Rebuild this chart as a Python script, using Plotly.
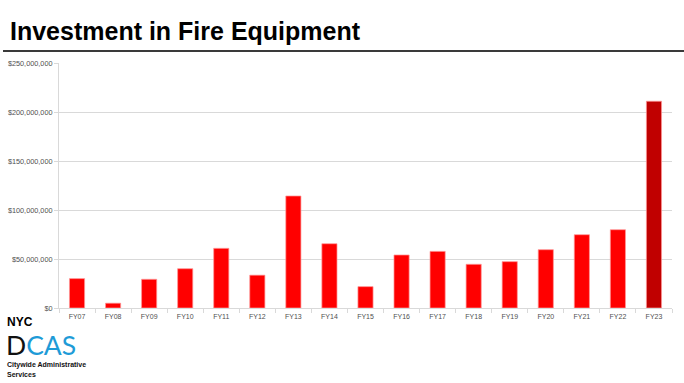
import plotly.graph_objects as go

categories = ["FY07", "FY08", "FY09", "FY10", "FY11", "FY12", "FY13", "FY14", "FY15",
              "FY16", "FY17", "FY18", "FY19", "FY20", "FY21", "FY22", "FY23"]
investment = [30.0e6, 4.9e6, 29.3e6, 40.1e6, 60.9e6, 33.5e6, 114.3e6, 65.6e6, 21.8e6,
              54.1e6, 57.8e6, 44.6e6, 47.3e6, 59.5e6, 74.8e6, 79.9e6, 211.0e6]
bar_colors = ["#FF0000"] * 16 + ["#C00000"]
y_tickvals = [0, 50e6, 100e6, 150e6, 200e6, 250e6]
y_ticktext = ["$0", "$50,000,000", "$100,000,000", "$150,000,000", "$200,000,000", "$250,000,000"]

W, H = 684, 383
L, R, T, B = 59, 12, 63, 75
PW, PH = W - L - R, H - T - B

def px(x):
    return (x - L) / PW

def py(y):
    return (H - B - y) / PH

fig = go.Figure(go.Bar(
    x=categories, y=investment,
    marker=dict(color=bar_colors, line=dict(color="rgba(255,150,150,0.9)", width=0.8)),
))

fig.update_layout(
    width=W, height=H,
    margin=dict(l=L, r=R, t=T, b=B, autoexpand=False),
    paper_bgcolor="white", plot_bgcolor="white",
    bargap=0.58,
    showlegend=False,
    font=dict(family="Liberation Sans, Arial, sans-serif", color="#595959"),
)
fig.update_yaxes(
    automargin=False,
    range=[0, 250e6], tickvals=y_tickvals, ticktext=y_ticktext,
    tickfont=dict(size=7.3, color="#505050"),
    showgrid=True, gridcolor="#d9d9d9", gridwidth=1,
    showline=True, linecolor="#d9d9d9", linewidth=1,
    ticks="outside", ticklen=4, tickcolor="#d9d9d9",
    zeroline=False,
)
fig.update_xaxes(
    automargin=False,
    tickfont=dict(size=7, color="#505050"),
    showline=True, linecolor="#d9d9d9", linewidth=1,
    ticks="outside", tickson="boundaries", ticklen=4, tickcolor="#d9d9d9",
    ticklabelstandoff=2,
    showgrid=False,
)

annotations = [
    dict(text="<b>Investment in Fire Equipment</b>", x=px(8), y=py(31),
         xanchor="left", yanchor="middle",
         font=dict(size=25, color="#000000", family="Liberation Sans, Arial, sans-serif")),
    dict(text="<b>NYC</b>", x=px(5), y=py(322), xanchor="left", yanchor="middle",
         font=dict(size=12, color="#000000", family="Liberation Sans, Arial, sans-serif")),
    dict(text="<span style='color:#111111'>D</span><span style='color:#1E9BD7'>CAS</span>",
         x=px(4), y=py(345), xanchor="left", yanchor="middle",
         font=dict(size=26.5, family="Lato, Roboto, sans-serif", weight=400)),
    dict(text="<b>Citywide Administrative</b>", x=px(5), y=py(365), xanchor="left", yanchor="middle",
         font=dict(size=7, color="#111111", family="Liberation Sans, Arial, sans-serif")),
    dict(text="<b>Services</b>", x=px(5), y=py(374), xanchor="left", yanchor="middle",
         font=dict(size=7, color="#111111", family="Liberation Sans, Arial, sans-serif")),
]
for a in annotations:
    a.update(xref="paper", yref="paper", showarrow=False)
fig.update_layout(annotations=annotations)

fig.add_shape(type="line", xref="paper", yref="paper",
              x0=px(3), x1=px(684), y0=py(51), y1=py(51),
              line=dict(color="#3a3a3a", width=2))

fig.write_html("out.html")
